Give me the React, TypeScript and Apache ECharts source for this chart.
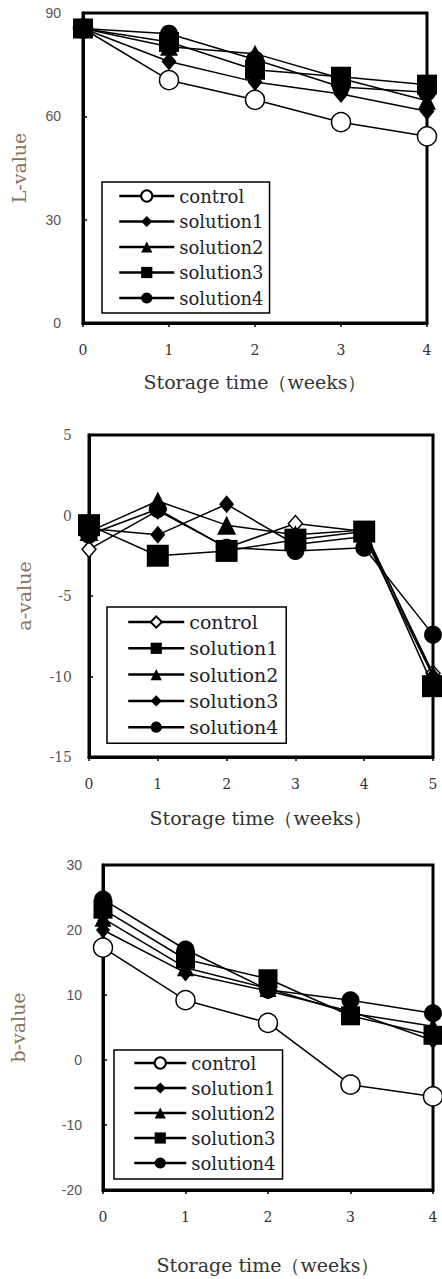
import React, { useEffect, useRef } from "react";
import * as echarts from "echarts";

// ---------- data ----------
const seriesNames = ["control", "solution1", "solution2", "solution3", "solution4"];

// L-value panel
const weeksL = [0, 1, 2, 3, 4];
const lControl = [85.5, 70.5, 64.8, 58.3, 54.2];
const lSolution1 = [85.5, 75.9, 70.0, 66.5, 61.5];
const lSolution2 = [85.5, 80.2, 78.2, 71.0, 64.5];
const lSolution3 = [85.5, 81.6, 73.5, 71.5, 69.2];
const lSolution4 = [85.5, 84.0, 76.5, 68.5, 67.0];
const lTicksY = [0, 30, 60, 90];

// a-value panel
const weeksA = [0, 1, 2, 3, 4, 5];
const aControl = [-2.1, 0.3, -2.0, -0.5, -1.0, -9.8];
const aSolution1 = [-0.6, -2.5, -2.2, -1.5, -1.0, -10.6];
const aSolution2 = [-1.0, 0.9, -0.6, -1.2, -0.9, -9.9];
const aSolution3 = [-0.8, -1.2, 0.7, -1.8, -1.3, -10.0];
const aSolution4 = [-1.2, 0.4, -2.0, -2.2, -2.0, -7.4];
const aTicksY = [-15, -10, -5, 0, 5];

// b-value panel
const weeksB = [0, 1, 2, 3, 4];
const bControl = [17.3, 9.2, 5.7, -3.8, -5.6];
const bSolution1 = [20.0, 13.4, 10.6, 7.5, 3.0];
const bSolution2 = [21.8, 14.2, 11.0, 7.2, 5.2];
const bSolution3 = [23.2, 15.5, 12.5, 6.8, 3.8];
const bSolution4 = [24.7, 17.0, 10.8, 9.2, 7.2];
const bTicksY = [-20, -10, 0, 10, 20, 30];

const xName = "Storage time\uFF08weeks\uFF09";

type Mark = { symbol: string; size: number | number[]; hollow?: boolean };

const marksL: Mark[] = [
  { symbol: "circle", size: 19, hollow: true },
  { symbol: "diamond", size: [15, 18] },
  { symbol: "triangle", size: 18 },
  { symbol: "rect", size: 20 },
  { symbol: "circle", size: 18 },
];
const marksA: Mark[] = [
  { symbol: "diamond", size: [14, 16], hollow: true },
  { symbol: "rect", size: 22 },
  { symbol: "triangle", size: 19 },
  { symbol: "diamond", size: [15, 18] },
  { symbol: "circle", size: 18 },
];
const marksB: Mark[] = [
  { symbol: "circle", size: 19, hollow: true },
  { symbol: "diamond", size: [14, 17] },
  { symbol: "triangle", size: 17 },
  { symbol: "rect", size: 19 },
  { symbol: "circle", size: 18 },
];

type PanelCfg = {
  weeks: number[];
  values: number[][];
  marks: Mark[];
  yTicks: number[];
  yName: string;
  xMax: number;
  grid: { left: number; right: number; top: number; height: number };
  legend: { left: number; top: number; gap: number; font: number; itemWidth: number; padding: number[] };
  yLabelMargin: number;
  yNameGap: number;
  xNameGap: number;
  yLabelFont: string;
};

const serif = "'DejaVu Serif', 'Liberation Serif', serif";
const sans = "'Liberation Sans', 'DejaVu Sans', sans-serif";

function buildOption(c: PanelCfg): any {
  const yMin = c.yTicks[0];
  const yMax = c.yTicks[c.yTicks.length - 1];
  const interval = c.yTicks[1] - c.yTicks[0];
  return {
    animation: false,
    backgroundColor: "#fff",
    grid: {
      ...c.grid,
      show: true,
      borderColor: "#000",
      borderWidth: 3,
      backgroundColor: "transparent",
    },
    xAxis: {
      type: "value",
      min: 0,
      max: c.xMax,
      interval: 1,
      name: xName,
      nameLocation: "middle",
      nameGap: c.xNameGap,
      nameTextStyle: { fontFamily: serif, fontSize: 19, color: "#333" },
      axisLine: { show: true, onZero: false, lineStyle: { color: "#000", width: 3 } },
      axisTick: { show: true, inside: false, length: 4, lineStyle: { color: "#000", width: 1.5 } },
      axisLabel: { fontFamily: serif, fontSize: 14, color: "#333", margin: 20 },
      splitLine: { show: false },
    },
    yAxis: {
      type: "value",
      min: yMin,
      max: yMax,
      interval,
      name: c.yName,
      nameLocation: "middle",
      nameRotate: 90,
      nameGap: c.yNameGap,
      nameTextStyle: { fontFamily: serif, fontSize: 19, color: "#8a735c" },
      axisLine: { show: true, onZero: false, lineStyle: { color: "#000", width: 3 } },
      axisTick: { show: true, inside: true, length: 4, lineStyle: { color: "#000", width: 1.5 } },
      axisLabel: { fontFamily: c.yLabelFont, fontSize: 14, color: "#555", margin: c.yLabelMargin },
      splitLine: { show: false },
    },
    legend: {
      orient: "vertical",
      left: c.legend.left,
      top: c.legend.top,
      data: seriesNames,
      selectedMode: false,
      backgroundColor: "#fff",
      borderColor: "#000",
      borderWidth: 1.5,
      borderRadius: 0,
      padding: c.legend.padding,
      itemWidth: c.legend.itemWidth,
      itemHeight: 14,
      itemGap: c.legend.gap,
      lineStyle: { width: 2.5, color: "#000" },
      textStyle: { fontFamily: serif, fontSize: c.legend.font, lineHeight: 20, color: "#1e1e2e" },
    },
    series: seriesNames.map((name, i) => {
      const m = c.marks[i];
      return {
        name,
        type: "line",
        clip: false,
        data: c.weeks.map((w, j) => [w, c.values[i][j]]),
        symbol: m.symbol,
        symbolSize: m.size,
        lineStyle: { color: "#000", width: 1.5 },
        itemStyle: m.hollow
          ? { color: "#fff", borderColor: "#000", borderWidth: 1.5 }
          : { color: "#000", borderColor: "#000", borderWidth: 0 },
        z: 2 + i,
      };
    }),
  };
}

const panelL: PanelCfg = {
  weeks: weeksL,
  values: [lControl, lSolution1, lSolution2, lSolution3, lSolution4],
  marks: marksL,
  yTicks: lTicksY,
  yName: "L-value",
  xMax: 4,
  grid: { left: 83, right: 15, top: 13, height: 310 },
  legend: { left: 102, top: 182, gap: 5.5, font: 18, itemWidth: 55, padding: [4, 6, 5, 16] },
  yLabelMargin: 22,
  yNameGap: 55,
  xNameGap: 49,
  yLabelFont: sans,
};

const panelA: PanelCfg = {
  weeks: weeksA,
  values: [aControl, aSolution1, aSolution2, aSolution3, aSolution4],
  marks: marksA,
  yTicks: aTicksY,
  yName: "a-value",
  xMax: 5,
  grid: { left: 89, right: 9, top: 15, height: 322 },
  legend: { left: 107, top: 187, gap: 6.3, font: 19, itemWidth: 56, padding: [5, 8, 6, 20] },
  yLabelMargin: 17,
  yNameGap: 56,
  xNameGap: 51,
  yLabelFont: serif,
};

const panelB: PanelCfg = {
  weeks: weeksB,
  values: [bControl, bSolution1, bSolution2, bSolution3, bSolution4],
  marks: marksB,
  yTicks: bTicksY,
  yName: "b-value",
  xMax: 4,
  grid: { left: 103, right: 9, top: 15, height: 327 },
  legend: { left: 114, top: 200, gap: 5, font: 18, itemWidth: 52, padding: [3, 7, 6, 19] },
  yLabelMargin: 21,
  yNameGap: 76,
  xNameGap: 65,
  yLabelFont: sans,
};

function Panel({ cfg, top, height }: { cfg: PanelCfg; top: number; height: number }) {
  const ref = useRef<HTMLDivElement>(null);
  useEffect(() => {
    if (!ref.current) return;
    const chart = echarts.init(ref.current, undefined, { renderer: "svg" });
    chart.setOption(buildOption(cfg));
    return () => chart.dispose();
  }, [cfg]);
  return (
    <div
      ref={ref}
      style={{ position: "absolute", left: 0, top, width: 442, height }}
    />
  );
}

export default function App() {
  return (
    <div style={{ position: "absolute", left: 0, top: 0, width: 442, height: 1279, background: "#fff", overflow: "hidden" }}>
      <Panel cfg={panelL} top={0} height={420} />
      <Panel cfg={panelA} top={420} height={430} />
      <Panel cfg={panelB} top={850} height={429} />
    </div>
  );
}
